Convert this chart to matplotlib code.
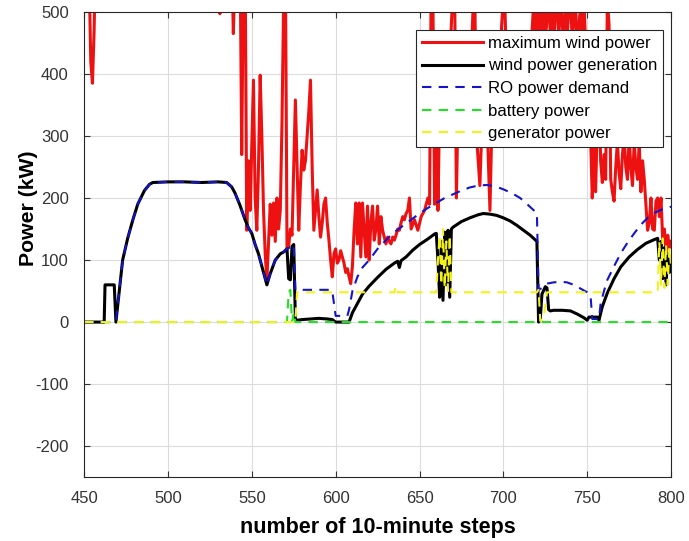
import matplotlib
matplotlib.use("Agg")
import matplotlib.pyplot as plt

# maximum wind power (values above 500 are off the chart)
red_t = [450, 451, 453, 454, 455, 456, 457, 470, 490, 510, 530, 531, 532, 536,
         538, 539, 540, 541, 543, 544, 545, 546, 547, 548, 549, 551, 552, 553,
         554, 555, 556, 557, 558, 559, 560, 561, 562, 563, 564, 565, 566, 567,
         568, 569, 570, 571, 572, 573, 574, 575, 576, 577, 578, 579, 580, 581,
         582, 583, 584, 585, 586, 587, 588, 589, 590, 591, 592, 593, 594, 595,
         596, 597, 598, 599, 600, 601, 602, 603, 604, 605, 606, 607, 608, 609,
         610, 611, 612, 613, 614, 615, 616, 617, 618, 619, 620, 621, 622, 623,
         624, 625, 626, 627, 628, 629, 630, 631, 632, 633, 634, 635, 636, 637,
         638, 639, 640, 641, 642, 643, 644, 645, 647, 649, 651, 653, 655, 656,
         657, 658, 659, 660, 661, 662, 664, 666, 668, 670, 671, 672, 673, 675,
         677, 679, 681, 682, 683, 684, 686, 687, 688, 690, 692, 693, 695, 697,
         699, 700, 701, 702, 704, 706, 708, 710, 712, 714, 716, 718, 719, 720,
         721, 722, 723, 724, 725, 727, 728, 729, 730, 732, 733, 734, 736, 737,
         738, 740, 741, 743, 744, 746, 747, 748, 749, 751, 752, 753, 754, 755,
         756, 757, 758, 759, 760, 761, 762, 763, 764, 765, 766, 767, 768, 769,
         770, 771, 772, 773, 774, 775, 776, 777, 778, 779, 780, 781, 782, 783,
         784, 785, 786, 787, 788, 789, 790, 791, 792, 793, 794, 795, 796, 797,
         798, 799, 800]
red_p = [520, 600, 560, 420, 385, 470, 620, 700, 750, 700, 560, 497, 560, 600,
         600, 465, 560, 620, 600, 270, 560, 600, 148, 260, 180, 390, 200, 148,
         250, 398, 300, 180, 110, 68, 130, 190, 140, 192, 130, 200, 150, 180,
         320, 520, 600, 118, 122, 150, 140, 250, 358, 250, 148, 220, 277, 245,
         260, 300, 340, 390, 250, 148, 180, 213, 170, 137, 160, 190, 200, 160,
         132, 100, 73, 110, 118, 95, 100, 115, 105, 95, 80, 86, 73, 62,
         90, 148, 192, 126, 192, 105, 192, 148, 105, 187, 100, 160, 187, 132,
         150, 187, 126, 170, 148, 137, 126, 137, 130, 126, 137, 132, 140, 150,
         148, 160, 170, 165, 175, 180, 200, 150, 165, 148, 170, 180, 200, 190,
         560, 520, 190, 400, 180, 350, 400, 320, 420, 540, 520, 200, 350, 420,
         300, 380, 440, 510, 520, 300, 220, 300, 400, 350, 180, 300, 420, 350,
         480, 520, 500, 400, 350, 430, 320, 400, 450, 380, 420, 510, 450, 530,
         440, 520, 430, 520, 450, 530, 460, 520, 450, 540, 450, 520, 450, 530,
         460, 540, 450, 520, 440, 510, 460, 520, 450, 400, 300, 200, 280, 210,
         320, 380, 260, 225, 270, 230, 520, 480, 230, 210, 195, 250, 290, 240,
         215, 270, 300, 250, 230, 300, 250, 220, 290, 250, 230, 290, 210, 260,
         230, 190, 148, 160, 200, 150, 148, 195, 200, 170, 200, 132, 150, 110,
         140, 120, 130]

# wind power generation
gen_t = [450, 462, 462.5, 468, 469, 471, 473, 476, 479, 482, 486, 489, 491, 500,
         510, 520, 530, 535, 538, 540, 543, 546, 548, 550, 552, 554, 556, 559,
         561, 564, 567, 569, 571, 572, 573, 574, 575, 576, 577, 580, 585, 590,
         595, 598, 600, 608, 610, 613, 616, 620, 625, 630, 635, 637, 638, 639,
         642, 646, 650, 655, 659, 660, 661, 662, 663, 664, 665, 666, 667, 668,
         669, 670, 675, 680, 685, 688, 692, 696, 700, 704, 708, 712, 716, 720,
         721, 722, 723, 725, 726, 727, 728, 730, 735, 740, 744, 748, 750, 751,
         756, 757, 759, 762, 766, 770, 775, 780, 785, 790, 792, 793, 794, 795,
         796, 797, 798, 799, 800]
gen_p = [0, 0, 60, 60, 0, 50, 100, 135, 164, 190, 212, 222, 225, 226,
         226, 225, 226, 225, 218, 208, 188, 165, 152, 143, 125, 110, 90, 60,
         78, 100, 110, 113, 118, 70, 68, 122, 125, 4, 3, 4, 5, 6,
         5, 4, 0, 0, 15, 30, 45, 58, 72, 85, 95, 98, 88, 99,
         105, 116, 125, 134, 142, 143, 100, 40, 130, 35, 145, 60, 148, 40,
         150, 153, 162, 168, 173, 175, 174, 172, 168, 163, 156, 148, 140, 130,
         0, 5, 45, 57, 55, 20, 18, 19, 19, 18, 13, 7, 3, 8,
         8, 3, 25, 47, 70, 89, 105, 117, 127, 133, 135, 100, 130, 70,
         120, 60, 110, 80, 100]

# RO power demand
ro_t = [450, 468, 469, 471, 473, 476, 479, 482, 486, 489, 491, 500, 510, 520,
        530, 535, 538, 540, 543, 546, 548, 550, 552, 554, 556, 559, 561, 564,
        567, 569, 571, 574, 575, 576, 578, 590, 596, 598, 600, 607, 608, 610,
        613, 616, 620, 625, 630, 635, 640, 645, 650, 655, 660, 665, 670, 675,
        680, 685, 690, 695, 700, 705, 710, 715, 719, 720, 721, 723, 726, 730,
        734, 738, 742, 746, 750, 752, 753, 757, 758, 760, 762, 766, 770, 774,
        778, 782, 786, 790, 795, 800]
ro_p = [0, 0, 2, 50, 100, 135, 164, 190, 212, 222, 225, 226, 226, 225,
        226, 225, 218, 208, 188, 165, 152, 143, 125, 110, 90, 60, 78, 100,
        110, 113, 118, 122, 125, 52, 52, 52, 52, 50, 10, 10, 20, 50,
        73, 88, 100, 118, 132, 145, 155, 165, 175, 184, 192, 200, 206, 212,
        217, 220, 221, 219, 214, 208, 200, 188, 178, 175, 52, 55, 62, 64,
        65, 64, 60, 54, 48, 42, 5, 5, 30, 50, 68, 90, 111, 128,
        143, 157, 168, 176, 182, 186]

# battery power
bat_t = [450, 571, 572, 573, 574, 575, 576, 800]
bat_p = [0, 0, 48, 52, 0, 15, 0, 0]

# generator power
dg_t = [450, 576, 577, 635, 636, 637, 660, 661, 662, 663, 664, 665, 666, 667,
        668, 669, 720, 721, 722, 724, 726, 792, 793, 794, 795, 796, 797, 798,
        799, 800]
dg_p = [0, 0, 48, 48, 58, 48, 48, 100, 140, 60, 150, 55, 130, 50,
        140, 48, 48, 52, 2, 5, 48, 48, 130, 60, 135, 55, 125, 60,
        120, 90]

plt.rcParams['font.family'] = ['Liberation Sans', 'DejaVu Sans']
plt.rcParams['axes.unicode_minus'] = False

fig = plt.figure(figsize=(6.89, 5.41), dpi=100)
ax = fig.add_axes([0.122, 0.118, 0.852, 0.860])

dash = (4.5, 3.5)
ax.plot(red_t, red_p, color='#ee1111', lw=2.2, label='maximum wind power')
ax.plot(gen_t, gen_p, color='black', lw=2.2, label='wind power generation')
ax.plot(ro_t, ro_p, color='#1414c8', lw=1.5, dashes=dash, label='RO power demand')
ax.plot(bat_t, bat_p, color='#22e022', lw=1.5, dashes=dash, label='battery power')
ax.plot(dg_t, dg_p, color='#f2f21a', lw=1.5, dashes=dash, label='generator power')

ax.set_xlim(450, 800)
ax.set_ylim(-250, 500)
ax.set_xticks(range(450, 801, 50))
ax.set_yticks(range(-200, 501, 100))
ax.grid(True, color='#dcdcdc', lw=0.8)
ax.set_axisbelow(True)
ax.tick_params(direction='in', top=True, right=True, labelsize=12,
               colors='#333333', length=4)
ax.tick_params(axis='x', pad=10)
ax.tick_params(axis='y', pad=11)
for s in ax.spines.values():
    s.set_color('#262626')
    s.set_linewidth(0.8)

ax.set_xlabel('number of 10-minute steps', fontsize=15.5, fontweight='bold',
              labelpad=8)
ax.set_ylabel('Power (kW)', fontsize=15.3, fontweight='bold')
ax.yaxis.set_label_coords(-0.078, 0.578)

leg = ax.legend(loc='upper right', bbox_to_anchor=(0.986, 0.961), fontsize=12.1,
                frameon=True, fancybox=False, framealpha=1, edgecolor='#262626',
                handlelength=3.6, handletextpad=0.3, labelspacing=0.45,
                borderpad=0.35, borderaxespad=0)
leg.get_frame().set_linewidth(0.8)

fig.savefig('out.png', dpi=100)
